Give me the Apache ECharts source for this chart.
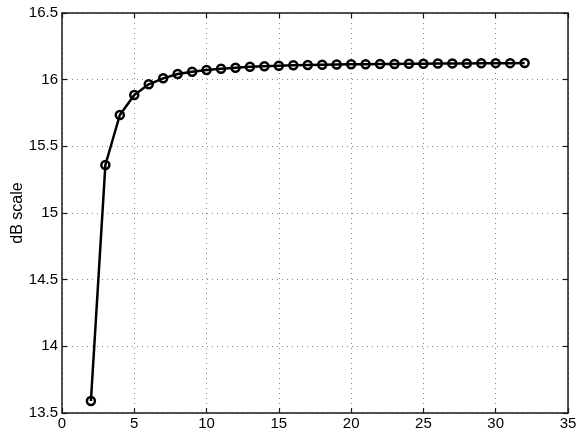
<!DOCTYPE html>
<html>
<head>
<meta charset="utf-8">
<script src="https://cdn.jsdelivr.net/npm/echarts@6/dist/echarts.min.js"></script>
<style>
  html, body { margin: 0; padding: 0; background: #fff; }
  #chart { width: 581px; height: 433px; }
</style>
</head>
<body>
<div id="chart"></div>
<script>
// x positions and dB values
const xValues = [2, 3, 4, 5, 6, 7, 8, 9, 10, 11, 12, 13, 14, 15, 16, 17, 18, 19, 20, 21, 22, 23, 24, 25, 26, 27, 28, 29, 30, 31, 32]
const dbValues = [13.59, 15.36, 15.735, 15.885, 15.965, 16.01, 16.042, 16.06, 16.072, 16.082, 16.09, 16.097, 16.101, 16.105, 16.108, 16.11, 16.112, 16.114, 16.115, 16.116, 16.117, 16.118, 16.119, 16.12, 16.121, 16.122, 16.122, 16.123, 16.124, 16.124, 16.125]
const yTicks = [13.5, 14, 14.5, 15, 15.5, 16, 16.5]

const font = 'Liberation Sans, Arial, sans-serif'
const frame = { show: true, onZero: false, lineStyle: { color: '#1a1a1a', width: 1.5 } }
const tick = { show: true, inside: true, length: 5, lineStyle: { color: '#1a1a1a', width: 1.2 } }
const grid = { show: true, lineStyle: { color: '#888', type: [1, 4], width: 1 } }

const chart = echarts.init(document.getElementById('chart'))
chart.setOption({
  animation: false,
  backgroundColor: '#fff',
  grid: { left: 62, right: 13, top: 13, bottom: 20, containLabel: false, outerBoundsMode: 'none' },
  xAxis: [
    {
      type: 'value', min: 0, max: 35, interval: 5, position: 'bottom',
      axisLine: frame, axisTick: tick, splitLine: grid,
      axisLabel: { color: '#000', fontSize: 15, fontFamily: font, margin: 3 }
    },
    {
      type: 'value', min: 0, max: 35, interval: 5, position: 'top',
      axisLine: frame, axisTick: tick, splitLine: { show: false },
      axisLabel: { show: false }
    }
  ],
  yAxis: [
    {
      type: 'value', min: yTicks[0], max: yTicks[yTicks.length - 1], interval: 0.5, position: 'left',
      name: 'dB scale', nameLocation: 'middle', nameGap: 36, nameRotate: 90, nameMoveOverlap: false,
      nameTextStyle: { color: '#000', fontSize: 16, fontFamily: font },
      axisLine: frame, axisTick: tick, splitLine: grid,
      axisLabel: { color: '#000', fontSize: 15, fontFamily: font, margin: 4 }
    },
    {
      type: 'value', min: yTicks[0], max: yTicks[yTicks.length - 1], interval: 0.5, position: 'right',
      axisLine: frame, axisTick: tick, splitLine: { show: false },
      axisLabel: { show: false }
    }
  ],
  series: [
    {
      type: 'line',
      data: xValues.map((x, i) => [x, dbValues[i]]),
      symbol: 'circle',
      symbolSize: 8,
      showAllSymbol: true,
      lineStyle: { color: '#000', width: 2.5 },
      itemStyle: { color: 'transparent', borderColor: '#000', borderWidth: 2.5 }
    }
  ]
})
</script>
</body>
</html>
